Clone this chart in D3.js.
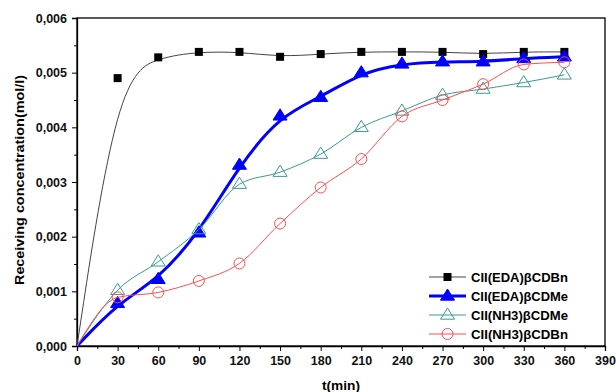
<!DOCTYPE html>
<html>
<head>
<meta charset="utf-8">
<script src="https://cdn.jsdelivr.net/npm/d3@7"></script>
<style>
  body { margin: 0; background: #fff; }
  svg text { font-family: "Liberation Sans", Arial, sans-serif; font-weight: bold; }
</style>
</head>
<body>
<svg width="616" height="392"></svg>
<script>
const times = [0, 30, 60, 90, 120, 150, 180, 210, 240, 270, 300, 330, 360];
const edaBn = [0, 0.0049, 0.00528, 0.00538, 0.00538, 0.00529, 0.00534, 0.00538, 0.00538, 0.00538, 0.00534, 0.00538, 0.00538];
const edaMe = [0, 0.00078, 0.00122, 0.00207, 0.00331, 0.00421, 0.00455, 0.005, 0.00516, 0.0052, 0.0052, 0.00526, 0.00529];
const nh3Me = [0, 0.00102, 0.00154, 0.00213, 0.00296, 0.00318, 0.00351, 0.004, 0.0043, 0.00459, 0.0047, 0.00482, 0.00496];
const nh3Bn = [0, 0.00089, 0.00098, 0.00119, 0.00151, 0.00224, 0.0029, 0.00342, 0.0042, 0.0045, 0.00479, 0.00515, 0.00519];
const seriesNames = ["CII(EDA)βCDBn", "CII(EDA)βCDMe", "CII(NH3)βCDMe", "CII(NH3)βCDBn"];
const xTicks = d3.range(0, 391, 30);
const yTicks = d3.range(0, 0.0061, 0.001);

const svg = d3.select("svg");
const mLeft = 77, mRight = 605, mTop = 18, mBottom = 346;

const x = d3.scaleLinear().domain([0, 390]).range([mLeft, mRight]);
const y = d3.scaleLinear().domain([0, 0.006]).range([mBottom, mTop]);

const series = [
  { name: seriesNames[0], values: edaBn, color: "#000", lineColor: "#444", width: 1, curve: d3.curveBasis, shape: "square" },
  { name: seriesNames[1], values: edaMe, color: "#0000ff", lineColor: "#0000ff", width: 3, curve: d3.curveBasis, shape: "triFill" },
  { name: seriesNames[2], values: nh3Me, color: "#3a9a96", lineColor: "#3a9a96", width: 1, curve: d3.curveMonotoneX, shape: "tri" },
  { name: seriesNames[3], values: nh3Bn, color: "#ff4d4d", lineColor: "#ff4d4d", width: 1, curve: d3.curveMonotoneX, shape: "circle" }
];

// frame
svg.append("rect").attr("x", mLeft).attr("y", mTop).attr("width", mRight - mLeft).attr("height", mBottom - mTop)
  .attr("fill", "none").attr("stroke", "#000").attr("stroke-width", 1.3);

// axes
const xAxis = d3.axisBottom(x).tickValues(xTicks).tickSize(5).tickPadding(5).tickFormat(d3.format("d"));
svg.append("g").attr("transform", `translate(0,${mBottom})`).call(xAxis);
svg.append("g").attr("transform", `translate(0,${mBottom})`)
  .call(d3.axisBottom(x).tickValues(d3.range(15, 390, 30)).tickSize(3).tickFormat(""))
  .select(".domain").remove();

const yAxis = d3.axisLeft(y).tickValues(yTicks).tickSize(5).tickPadding(5)
  .tickFormat(d => d3.format(".3f")(d).replace(".", ","));
svg.append("g").attr("transform", `translate(${mLeft},0)`).call(yAxis);
svg.append("g").attr("transform", `translate(${mLeft},0)`)
  .call(d3.axisLeft(y).tickValues(d3.range(0.0005, 0.006, 0.001)).tickSize(3).tickFormat(""))
  .select(".domain").remove();

svg.selectAll(".domain").attr("stroke-width", 1.3);
svg.selectAll(".tick text").attr("font-size", 12.5).attr("fill", "#111");

// axis titles
svg.append("text").attr("x", 341).attr("y", 390).attr("text-anchor", "middle")
  .attr("font-size", 13).attr("textLength", 38).attr("lengthAdjust", "spacingAndGlyphs").text("t(min)");
svg.append("text").attr("transform", "translate(24,180) rotate(-90)").attr("text-anchor", "middle")
  .attr("font-size", 12).attr("textLength", 210).attr("lengthAdjust", "spacingAndGlyphs")
  .text("Receiving concentration(mol/l)");

function drawMarker(g, s, cx, cy) {
  if (s.shape === "square") {
    g.append("rect").attr("x", cx - 4).attr("y", cy - 4).attr("width", 8).attr("height", 8).attr("fill", s.color);
  } else if (s.shape === "triFill" || s.shape === "tri") {
    const r = 7;
    g.append("path")
      .attr("d", `M${cx},${cy - r}L${cx + r},${cy + r * 0.6}L${cx - r},${cy + r * 0.6}Z`)
      .attr("fill", s.shape === "triFill" ? s.color : "#fff")
      .attr("fill-opacity", s.shape === "triFill" ? 1 : 0)
      .attr("stroke", s.color).attr("stroke-width", 1);
  } else {
    g.append("circle").attr("cx", cx).attr("cy", cy).attr("r", 5.5)
      .attr("fill", "none").attr("stroke", s.color).attr("stroke-width", 1);
  }
}

// lines and markers
series.forEach(s => {
  const pts = times.map((t, i) => [t, s.values[i]]);
  const line = d3.line().x(d => x(d[0])).y(d => y(d[1])).curve(s.curve);
  svg.append("path").datum(pts).attr("d", line)
    .attr("fill", "none").attr("stroke", s.lineColor).attr("stroke-width", s.width);
  const g = svg.append("g");
  pts.slice(1).forEach(d => drawMarker(g, s, x(d[0]), y(d[1])));
});

// legend
const legend = svg.append("g");
series.forEach((s, i) => {
  const ly = 277 + i * 19;
  legend.append("line").attr("x1", 429).attr("x2", 466).attr("y1", ly).attr("y2", ly)
    .attr("stroke", s.lineColor).attr("stroke-width", s.width);
  drawMarker(legend, s, 447.5, ly);
  legend.append("text").attr("x", 471).attr("y", ly + 4.5).attr("font-size", 12)
    .attr("textLength", 97).attr("lengthAdjust", "spacingAndGlyphs").text(s.name);
});
</script>
</body>
</html>
